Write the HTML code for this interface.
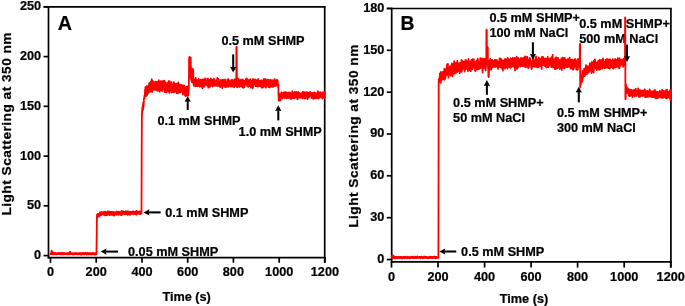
<!DOCTYPE html>
<html><head><meta charset="utf-8"><title>Light scattering</title>
<style>
html,body{margin:0;padding:0;background:#fff;}
body{width:685px;height:306px;overflow:hidden;font-family:"Liberation Sans",sans-serif;}
svg{display:block;}
.st{fill:none;stroke:#000;stroke-width:2.05;}
.hd{fill:#000;stroke:none;}
</style></head><body>
<svg width="685" height="306" viewBox="0 0 685 306">
<defs><filter id="sf" x="0" y="0" width="685" height="306" filterUnits="userSpaceOnUse"><feGaussianBlur stdDeviation="0.38"/></filter></defs>
<rect width="685" height="306" fill="#fff"/>
<g filter="url(#sf)">
<rect width="685" height="306" fill="#fff"/>
<g fill="none" stroke="#000" stroke-width="1.7" stroke-linecap="butt">
<path d="M48.5 6 V258.5" />
<path d="M47.6 257.6 H325.6" />
<path d="M43.6 6.8 H325.6" />
<path d="M324.7 6.8 V262.8" />
<path d="M43.6 255.6 H48.5" />
<path d="M43.6 205.8 H48.5" />
<path d="M43.6 156.1 H48.5" />
<path d="M43.6 106.3 H48.5" />
<path d="M43.6 56.6 H48.5" />
<path d="M43.6 6.8 H48.5" />
<path d="M50.5 257.6 V262.8" />
<path d="M96.2 257.6 V262.8" />
<path d="M142 257.6 V262.8" />
<path d="M187.7 257.6 V262.8" />
<path d="M233.4 257.6 V262.8" />
<path d="M279.2 257.6 V262.8" />
<path d="M324.9 257.6 V262.8" />
<path d="M391.7 7.7 V262.8" />
<path d="M390.8 261.9 H671.8" />
<path d="M386.8 8.5 H671.8" />
<path d="M670.9 8.5 V267.6" />
<path d="M386.8 259.5 H391.7" />
<path d="M386.8 217.7 H391.7" />
<path d="M386.8 175.8 H391.7" />
<path d="M386.8 134 H391.7" />
<path d="M386.8 92.2 H391.7" />
<path d="M386.8 50.3 H391.7" />
<path d="M386.8 8.5 H391.7" />
<path d="M391.5 261.9 V267.6" />
<path d="M438 261.9 V267.6" />
<path d="M484.6 261.9 V267.6" />
<path d="M531.1 261.9 V267.6" />
<path d="M577.6 261.9 V267.6" />
<path d="M624.2 261.9 V267.6" />
<path d="M670.7 261.9 V267.6" />
</g>
<g font-family="Liberation Sans, sans-serif" font-weight="bold" font-size="12.7" fill="#000" stroke="#000" stroke-width="0.22" stroke-linejoin="round">
<text x="41.1" y="259" text-anchor="end">0</text>
<text x="41.1" y="209.2" text-anchor="end">50</text>
<text x="41.1" y="159.5" text-anchor="end">100</text>
<text x="41.1" y="109.7" text-anchor="end">150</text>
<text x="41.1" y="60" text-anchor="end">200</text>
<text x="41.1" y="10.2" text-anchor="end">250</text>
<text x="384.3" y="262.9" text-anchor="end">0</text>
<text x="384.3" y="221.1" text-anchor="end">30</text>
<text x="384.3" y="179.2" text-anchor="end">60</text>
<text x="384.3" y="137.4" text-anchor="end">90</text>
<text x="384.3" y="95.6" text-anchor="end">120</text>
<text x="384.3" y="53.7" text-anchor="end">150</text>
<text x="384.3" y="11.9" text-anchor="end">180</text>
<text transform="translate(50.5 276.3) scale(1 1.05)" text-anchor="middle">0</text>
<text transform="translate(96.2 276.3) scale(1 1.05)" text-anchor="middle">200</text>
<text transform="translate(142 276.3) scale(1 1.05)" text-anchor="middle">400</text>
<text transform="translate(187.7 276.3) scale(1 1.05)" text-anchor="middle">600</text>
<text transform="translate(233.4 276.3) scale(1 1.05)" text-anchor="middle">800</text>
<text transform="translate(279.2 276.3) scale(1 1.05)" text-anchor="middle">1000</text>
<text transform="translate(324.9 276.3) scale(1 1.05)" text-anchor="middle">1200</text>
<text transform="translate(391.5 281.4) scale(1 1.07)" text-anchor="middle">0</text>
<text transform="translate(438 281.4) scale(1 1.07)" text-anchor="middle">200</text>
<text transform="translate(484.6 281.4) scale(1 1.07)" text-anchor="middle">400</text>
<text transform="translate(531.1 281.4) scale(1 1.07)" text-anchor="middle">600</text>
<text transform="translate(577.6 281.4) scale(1 1.07)" text-anchor="middle">800</text>
<text transform="translate(624.2 281.4) scale(1 1.07)" text-anchor="middle">1000</text>
<text transform="translate(670.7 281.4) scale(1 1.07)" text-anchor="middle">1200</text>
<text x="186.6" y="300.7" text-anchor="middle">Time (s)</text>
<text x="524" y="302.7" text-anchor="middle">Time (s)</text>
<text transform="translate(11.3 123.8) rotate(-90)" text-anchor="middle" font-size="13.7" letter-spacing="0.48">Light Scattering at 350 nm</text>
<text transform="translate(358 136) rotate(-90)" text-anchor="middle" font-size="13.7" letter-spacing="0.48">Light Scattering at 350 nm</text>
<text x="57.8" y="30" font-size="19.8">A</text>
<text x="400.5" y="29.5" font-size="19.3">B</text>
<text x="157.4" y="124.6">0.1 mM SHMP</text>
<text x="221.4" y="44.6">0.5 mM SHMP</text>
<text x="238.6" y="135.6">1.0 mM SHMP</text>
<text x="165.2" y="216.6">0.1 mM SHMP</text>
<text x="128" y="255.6">0.05 mM SHMP</text>
<text x="489.4" y="22">0.5 mM SHMP+</text>
<text x="489.4" y="37.1">100 mM NaCl</text>
<text x="579.2" y="28.4">0.5 mM SHMP+</text>
<text x="579.2" y="43.3">500 mM NaCl</text>
<text x="453.1" y="107.4">0.5 mM SHMP+</text>
<text x="453.1" y="122.2">50 mM NaCl</text>
<text x="556.9" y="117">0.5 mM SHMP+</text>
<text x="556.9" y="132.1">300 mM NaCl</text>
<text x="461.1" y="255.7">0.5 mM SHMP</text>
</g>
<g fill="none" stroke="#ff0000" stroke-width="1.8" stroke-linejoin="round" stroke-linecap="butt">
<path d="M50.5 253.8L50.6 254.1L50.7 253.7L50.8 253.7L51 254.4L51.1 254.2L51.2 253.8L51.3 253.1L51.4 251.6L51.5 252.9L51.6 250.7L51.8 253L51.9 253.4L52 251.8L52.1 254.1L52.2 253.5L52.3 252.8L52.4 253.8L52.6 252.9L52.7 252.8L52.8 253.5L52.9 252.2L53 254.3L53.1 252.6L53.2 253L53.4 253.5L53.5 253.6L53.6 253.6L53.7 254.4L53.8 253.9L53.9 253.3L54 253.4L54.2 253.9L54.3 253.1L54.4 253.8L54.5 253.5L54.6 253.2L54.7 254L54.8 253.9L55 253.8L55.1 254.1L55.2 253.3L55.3 254.2L55.4 253.1L55.5 254.4L55.6 253.2L55.8 253.2L55.9 253.9L56 253.6L56.1 254.4L56.2 254.1L56.3 253.6L56.4 253.6L56.6 253.8L56.7 254.2L56.8 253.6L56.9 253.9L57 254.4L57.1 253.1L57.2 253.7L57.4 253.9L57.5 253.5L57.6 254.2L57.7 254.1L57.8 253.9L57.9 254.2L58 254.2L58.2 253.2L58.3 253.5L58.4 253.8L58.5 253.7L58.6 252.9L58.7 253.8L58.8 254.2L59 253.9L59.1 253.8L59.2 254.1L59.3 254.2L59.4 253.5L59.5 253.1L59.6 253.3L59.8 254L59.9 254.1L60 253.6L60.1 253.9L60.2 252.8L60.3 253.2L60.4 253.7L60.6 254.2L60.7 254.3L60.8 254.3L60.9 253.3L61 253.5L61.1 253L61.2 253.2L61.4 254L61.5 254L61.6 253L61.7 253.5L61.8 253.3L61.9 254.4L62 253.7L62.2 253.5L62.3 253.3L62.4 253.8L62.5 254.3L62.6 253.6L62.7 254.2L62.8 254L63 253L63.1 253.9L63.2 253.9L63.3 254L63.4 254.4L63.5 253.2L63.6 253.3L63.8 253.6L63.9 254.3L64 254.1L64.1 253.5L64.2 254.1L64.3 253.1L64.4 254.1L64.6 253.1L64.7 253.6L64.8 253.8L64.9 253.5L65 254.1L65.1 254.3L65.2 253.8L65.4 253.6L65.5 253.7L65.6 253.6L65.7 253.7L65.8 254.1L65.9 253.4L66 253.6L66.2 254.1L66.3 253.8L66.4 253.5L66.5 254L66.6 253.2L66.7 253.2L66.8 254.3L67 253.3L67.1 254.3L67.2 254.2L67.3 254L67.4 254.4L67.5 253.5L67.7 254.2L67.8 254.4L67.9 253.1L68 253.2L68.1 254.3L68.2 253.2L68.3 254.3L68.5 253.8L68.6 254.2L68.7 254.1L68.8 253.7L68.9 253.9L69 253.6L69.1 253.1L69.3 253.3L69.4 254L69.5 254.3L69.6 252.7L69.7 252L69.8 252.6L69.9 252.4L70.1 252L70.2 252.4L70.3 252.1L70.4 252.4L70.5 251.8L70.6 254.2L70.7 253.3L70.9 253.9L71 253L71.1 253.9L71.2 253.9L71.3 254.2L71.4 254L71.5 254L71.7 253.7L71.8 253.6L71.9 254.2L72 253.8L72.1 253.6L72.2 254.5L72.3 254.1L72.5 253.5L72.6 253.2L72.7 254.1L72.8 253.1L72.9 253.8L73 253.8L73.1 253.9L73.3 254.1L73.4 254.3L73.5 254.3L73.6 254.1L73.7 253.8L73.8 254L73.9 253.6L74.1 254.3L74.2 253.1L74.3 253.2L74.4 253.2L74.5 254L74.6 253.9L74.7 253.9L74.9 253.7L75 254.3L75.1 253.8L75.2 254.2L75.3 254L75.4 253.9L75.5 253.6L75.7 253.3L75.8 254L75.9 252.9L76 253.3L76.1 254.1L76.2 253.8L76.3 253.4L76.5 253.8L76.6 253.6L76.7 253.6L76.8 253.4L76.9 253.6L77 254L77.1 253.9L77.3 254.1L77.4 253.7L77.5 253.6L77.6 254.5L77.7 253.3L77.8 253.9L77.9 253.3L78.1 253.9L78.2 254.3L78.3 253.8L78.4 253.2L78.5 253.9L78.6 253.8L78.7 253.8L78.9 253.4L79 254L79.1 253.5L79.2 254.1L79.3 254.3L79.4 253.2L79.5 253.5L79.7 253.6L79.8 253.5L79.9 253.9L80 253.1L80.1 253.8L80.2 253.1L80.3 254L80.5 254L80.6 253.6L80.7 254.6L80.8 254.2L80.9 253.6L81 253.5L81.1 253.9L81.3 254.4L81.4 254.5L81.5 254L81.6 254.2L81.7 253.2L81.8 254.3L81.9 254.5L82.1 253.2L82.2 254.3L82.3 254.3L82.4 253.2L82.5 254L82.6 254.2L82.7 254.1L82.9 253.3L83 254L83.1 253.9L83.2 253.5L83.3 253.4L83.4 253.2L83.5 253.8L83.7 253.2L83.8 253.7L83.9 253.5L84 254.4L84.1 253L84.2 253.8L84.3 254L84.5 254.5L84.6 253.6L84.7 253.6L84.8 254.1L84.9 253.1L85 253.6L85.1 252.7L85.3 253.7L85.4 254.1L85.5 253.8L85.6 253.9L85.7 253.4L85.8 254L85.9 254L86.1 253.9L86.2 254.3L86.3 253.8L86.4 253.9L86.5 254.3L86.6 254L86.7 253.6L86.9 252.9L87 254.6L87.1 254.4L87.2 254.1L87.3 253.4L87.4 253.2L87.5 253L87.7 254.4L87.8 254.1L87.9 253.3L88 253.2L88.1 253.6L88.2 253.8L88.3 253.4L88.5 253.8L88.6 254.1L88.7 254.2L88.8 253.2L88.9 254L89 253.5L89.1 253.8L89.3 254.1L89.4 254.4L89.5 253.4L89.6 253.3L89.7 254L89.8 253.2L89.9 254.5L90.1 253.8L90.2 254.2L90.3 253.4L90.4 254.4L90.5 254.1L90.6 254L90.7 253.3L90.9 254.3L91 253.2L91.1 253.8L91.2 254.1L91.3 253.3L91.4 253.7L91.5 253.7L91.7 253.4L91.8 253.9L91.9 254L92 254.3L92.1 254.5L92.2 253L92.3 253L92.5 253.9L92.6 253.9L92.7 254.4L92.8 253.6L92.9 253.8L93 254L93.1 253.9L93.3 252.8L93.4 253.8L93.5 253.8L93.6 254.1L93.7 254.4L93.8 253.2L93.9 254.3L94.1 254L94.2 253.7L94.3 254.6L94.4 254L94.5 253.9L94.6 253.3L94.7 254.1L94.9 253.2L95 253.5L95.1 253.9L95.2 253.4L95.3 253.4L95.4 254.6L95.5 254.5L95.7 253.1L95.8 253.9L95.9 253.5L96 253L96.1 253.1L96.2 253.3L96.3 254.1L96.5 254.1L96.6 245L96.7 236.1L96.8 227.2L96.9 218L97 214.7L97.1 214.4L97.3 217L97.4 217.4L97.5 215.6L97.6 216.6L97.7 214.4L97.8 214L97.9 216.6L98.1 214L98.2 214.7L98.3 213.9L98.4 215.1L98.5 215.2L98.6 215.3L98.7 214.2L98.9 215.2L99 214L99.1 216.4L99.2 213.9L99.3 213.6L99.4 215.5L99.5 214.8L99.7 213.4L99.8 214.8L99.9 213.1L100 213L100.1 212.1L100.2 213.2L100.3 214.8L100.5 214.6L100.6 215L100.7 215L100.8 215.5L100.9 214.2L101 214.1L101.1 212.9L101.3 214.7L101.4 213.3L101.5 213L101.6 212.9L101.7 214L101.8 211.9L101.9 214.5L102.1 214L102.2 212.1L102.3 214.5L102.4 212.9L102.5 212.3L102.6 213.6L102.8 212.7L102.9 213.6L103 213.3L103.1 213L103.2 213.2L103.3 214.1L103.4 214.2L103.6 213.3L103.7 213.6L103.8 212.3L103.9 214.7L104 211.7L104.1 214.9L104.2 212.8L104.4 212.6L104.5 212.1L104.6 213.7L104.7 213.3L104.8 215L104.9 214.7L105 213.5L105.2 214.6L105.3 211.6L105.4 215.4L105.5 215.1L105.6 212L105.7 212.9L105.8 213.2L106 212.8L106.1 213.9L106.2 214L106.3 215.2L106.4 214.5L106.5 212.5L106.6 214.8L106.8 213.3L106.9 213.5L107 215.1L107.1 214.6L107.2 212.4L107.3 212.2L107.4 212.9L107.6 213.6L107.7 211.5L107.8 211.3L107.9 212.6L108 212.1L108.1 212.6L108.2 214.6L108.4 212.4L108.5 213.9L108.6 212.1L108.7 213.3L108.8 212.1L108.9 211.7L109 214.3L109.2 213.4L109.3 214.7L109.4 211.8L109.5 212.6L109.6 212.6L109.7 215.1L109.8 213.9L110 212.7L110.1 212.3L110.2 214L110.3 213.7L110.4 212.5L110.5 211.9L110.6 213.7L110.8 214.7L110.9 211.9L111 213.8L111.1 212.4L111.2 212.9L111.3 213.8L111.4 214.4L111.6 213.4L111.7 211.9L111.8 214.3L111.9 214.2L112 214.9L112.1 213.6L112.2 214.6L112.4 214.5L112.5 213.1L112.6 211.9L112.7 214L112.8 212.7L112.9 212.1L113 214.4L113.2 215.1L113.3 214.1L113.4 213.7L113.5 212.2L113.6 213.9L113.7 213.2L113.8 213.5L114 212.3L114.1 215.6L114.2 214.6L114.3 214.5L114.4 213.1L114.5 212.1L114.6 213.5L114.8 214.1L114.9 213L115 214.4L115.1 213.9L115.2 212.8L115.3 214.3L115.4 213.7L115.6 212.4L115.7 212.3L115.8 214.4L115.9 213.7L116 212.9L116.1 214.6L116.2 214.9L116.4 211.7L116.5 214L116.6 211.8L116.7 213.9L116.8 212.2L116.9 211.7L117 213L117.2 212.3L117.3 213L117.4 212.6L117.5 213.5L117.6 214.3L117.7 214.2L117.8 212L118 214.1L118.1 211.8L118.2 213.6L118.3 214.5L118.4 213L118.5 212.9L118.6 214.8L118.8 212.4L118.9 212.1L119 212.1L119.1 211.7L119.2 214.1L119.3 213.6L119.4 212L119.6 212.5L119.7 214.3L119.8 213.8L119.9 213.7L120 213.8L120.1 213.8L120.2 213.9L120.4 214L120.5 212.5L120.6 212.8L120.7 214.9L120.8 212.1L120.9 213.7L121 214.4L121.2 211.4L121.3 213.7L121.4 214.4L121.5 211L121.6 215.1L121.7 212.2L121.8 214.4L122 212.1L122.1 213.5L122.2 214.1L122.3 212.7L122.4 212.7L122.5 214.2L122.6 212.8L122.8 212.9L122.9 213.1L123 211.2L123.1 214.1L123.2 214L123.3 212.2L123.4 213.2L123.6 213.4L123.7 212.9L123.8 213.3L123.9 213.6L124 211.8L124.1 212.6L124.2 213.5L124.4 212.4L124.5 213.3L124.6 211.9L124.7 213.4L124.8 212.3L124.9 214.3L125 214L125.2 213.6L125.3 213.2L125.4 211.3L125.5 214.1L125.6 213.4L125.7 211.4L125.8 213.8L126 214.1L126.1 214.1L126.2 213L126.3 212L126.4 213L126.5 213.1L126.6 214.4L126.8 212.5L126.9 212.2L127 212L127.1 213.1L127.2 211.2L127.3 212.4L127.4 213.2L127.6 212.9L127.7 212.5L127.8 214.8L127.9 212L128 212.6L128.1 212.7L128.2 213.1L128.4 211.3L128.5 214.3L128.6 213.9L128.7 212.9L128.8 212.8L128.9 213.8L129 213.8L129.2 214.6L129.3 212.5L129.4 213.4L129.5 213.4L129.6 213L129.7 212.5L129.8 213.3L130 211.7L130.1 213.1L130.2 213.1L130.3 214.8L130.4 212.1L130.5 213.4L130.6 211.9L130.8 211.9L130.9 212L131 213.2L131.1 211.9L131.2 212.3L131.3 213.1L131.4 213.4L131.6 212.6L131.7 211.8L131.8 213.9L131.9 212.2L132 212.8L132.1 211.9L132.2 213.3L132.4 213.1L132.5 212.2L132.6 213.5L132.7 212.6L132.8 213.5L132.9 213.7L133 211.5L133.2 212L133.3 211.6L133.4 212.1L133.5 212.4L133.6 211.5L133.7 212.4L133.8 213.8L134 213.6L134.1 214.3L134.2 211.6L134.3 211.9L134.4 212.4L134.5 212.2L134.6 211.8L134.8 212.5L134.9 212.8L135 212.1L135.1 212.7L135.2 213.6L135.3 212.4L135.4 213.8L135.6 213.3L135.7 211.7L135.8 214.1L135.9 213L136 212.1L136.1 213.4L136.2 210.9L136.4 212.1L136.5 214.7L136.6 211.9L136.7 212.9L136.8 212.9L136.9 211L137.1 212.3L137.2 213L137.3 213.2L137.4 212.7L137.5 213.3L137.6 213.7L137.7 213.7L137.9 212.2L138 213.2L138.1 212.2L138.2 212L138.3 213.4L138.4 212.2L138.5 212.3L138.7 212.2L138.8 211.7L138.9 213.4L139 213.9L139.1 211.6L139.2 212.1L139.3 213.2L139.5 212.8L139.6 212.9L139.7 212.1L139.8 212.3L139.9 211.7L140 214L140.1 211.4L140.3 213.4L140.4 211.6L140.5 214L140.6 213.6L140.7 212.8L140.8 212.2L140.9 212.6L141.1 213.6L141.2 212L141.3 211.5L141.4 213L141.5 212.4L141.6 179.8L141.7 146.4L141.9 114.5L142 114.8L142.1 110.6L142.2 113.3L142.3 108L142.4 110.8L142.5 110.6L142.7 106.6L142.8 105.4L142.9 104.5L143 110L143.1 104.7L143.2 102.7L143.3 104.2L143.5 106.8L143.6 106.7L143.7 105.9L143.8 102.4L143.9 98.4L144 98.9L144.1 98.1L144.3 98.8L144.4 95.9L144.5 98.4L144.6 97.5L144.7 95.6L144.8 94.7L144.9 93.5L145.1 89.6L145.2 90.6L145.3 92.8L145.4 87.2L145.5 95.6L145.6 91.9L145.7 90.9L145.9 88.9L146 94.8L146.1 96.1L146.2 88.9L146.3 87.6L146.4 87.7L146.5 86.5L146.7 93.6L146.8 86.2L146.9 87.8L147 89.9L147.1 86.1L147.2 92.4L147.3 94.8L147.5 88.9L147.6 93.2L147.7 91.3L147.8 91.5L147.9 92L148 93.2L148.1 85.8L148.3 89.8L148.4 89.3L148.5 91.6L148.6 91.6L148.7 88.6L148.8 89.6L148.9 92.3L149.1 83.5L149.2 86.1L149.3 84L149.4 87.7L149.5 87L149.6 82.8L149.7 85.5L149.9 89.5L150 87.3L150.1 83.4L150.2 83.2L150.3 91.7L150.4 89.7L150.5 90.8L150.7 85.5L150.8 83.7L150.9 81.5L151 87.1L151.1 89.5L151.2 86.4L151.3 83.6L151.5 88.2L151.6 85.4L151.7 79.2L151.8 88.3L151.9 87.7L152 80.8L152.1 92.1L152.3 84.2L152.4 83.5L152.5 89.3L152.6 80.6L152.7 85.1L152.8 82.3L152.9 90.4L153.1 89L153.2 86L153.3 88.8L153.4 82.6L153.5 88.9L153.6 89.8L153.7 82.4L153.9 82.1L154 87L154.1 87.8L154.2 85.9L154.3 87.7L154.4 84.3L154.5 84.3L154.7 89.5L154.8 84.6L154.9 82.7L155 88.8L155.1 87.7L155.2 83.1L155.3 85.4L155.5 87.1L155.6 81.7L155.7 88.7L155.8 89.7L155.9 86.3L156 87.8L156.1 82.8L156.3 82.1L156.4 90.3L156.5 87.5L156.6 84.6L156.7 87.1L156.8 83.3L156.9 90L157.1 83.4L157.2 86.5L157.3 81.6L157.4 87.6L157.5 88.6L157.6 90.6L157.7 88.3L157.9 84.9L158 87.4L158.1 82.2L158.2 83.5L158.3 90.3L158.4 85.2L158.5 88.9L158.7 84L158.8 80.2L158.9 83.1L159 85.7L159.1 82.3L159.2 81.8L159.3 86.4L159.5 83.8L159.6 91.7L159.7 85.7L159.8 89.8L159.9 84.4L160 87.7L160.1 84.5L160.3 87.7L160.4 87.9L160.5 87.1L160.6 90.5L160.7 81.1L160.8 88.7L160.9 87.9L161.1 89.8L161.2 83.8L161.3 84.6L161.4 86.9L161.5 89.8L161.6 82.3L161.7 89.7L161.9 86.8L162 89.3L162.1 85.6L162.2 81.1L162.3 90.9L162.4 89.9L162.5 81.6L162.7 87L162.8 83.8L162.9 81.8L163 83.7L163.1 86.6L163.2 84.2L163.3 82.2L163.5 82.6L163.6 86L163.7 80.7L163.8 87L163.9 85.6L164 88.9L164.1 86.8L164.3 89.4L164.4 81L164.5 87.5L164.6 81.1L164.7 92.1L164.8 84.8L164.9 86.3L165.1 84.1L165.2 89.2L165.3 88.6L165.4 86.8L165.5 88.3L165.6 85.7L165.7 82.7L165.9 86.5L166 85.4L166.1 89.1L166.2 88.9L166.3 88L166.4 92.3L166.5 85.8L166.7 86L166.8 84.9L166.9 88.2L167 87L167.1 88L167.2 85.3L167.3 87.6L167.5 87.8L167.6 82.8L167.7 84.9L167.8 87.4L167.9 83.9L168 87.4L168.1 86L168.3 91.6L168.4 83.4L168.5 89.7L168.6 81.2L168.7 90.4L168.8 83.9L168.9 84.1L169.1 88.2L169.2 84.4L169.3 88.9L169.4 84.6L169.5 92.8L169.6 81.1L169.7 85.8L169.9 85.2L170 87.9L170.1 82.9L170.2 89.1L170.3 89.1L170.4 88.2L170.6 89L170.7 88.9L170.8 83.3L170.9 88.6L171 90.1L171.1 85.5L171.2 83.8L171.4 87.2L171.5 82.1L171.6 92.4L171.7 87.6L171.8 91.4L171.9 89.2L172 84.4L172.2 85.3L172.3 87L172.4 86.3L172.5 85.5L172.6 86.9L172.7 87.6L172.8 91.9L173 85.8L173.1 84.3L173.2 89.6L173.3 90.8L173.4 91.7L173.5 86.8L173.6 89.8L173.8 82.2L173.9 92.4L174 84.6L174.1 85L174.2 84.5L174.3 89.2L174.4 88.2L174.6 90.6L174.7 87.3L174.8 83.7L174.9 85.2L175 84.6L175.1 89.6L175.2 89.7L175.4 86.1L175.5 91.6L175.6 88.7L175.7 86.8L175.8 86L175.9 88.8L176 90.4L176.2 89.9L176.3 91L176.4 83.6L176.5 86.8L176.6 93.1L176.7 86.4L176.8 87.7L177 91.3L177.1 83.8L177.2 88.2L177.3 88.2L177.4 91.2L177.5 84.9L177.6 89.5L177.8 93.3L177.9 83.6L178 85.4L178.1 86L178.2 82.5L178.3 87.6L178.4 89.8L178.6 86.3L178.7 83.9L178.8 88.5L178.9 92.6L179 88.7L179.1 87.6L179.2 87L179.4 88.8L179.5 89.1L179.6 85.4L179.7 90.2L179.8 90.1L179.9 89.6L180 90L180.2 92.3L180.3 91.6L180.4 84.9L180.5 84.9L180.6 85.5L180.7 86L180.8 89.5L181 85.1L181.1 88.9L181.2 91.4L181.3 87.4L181.4 85.8L181.5 90.5L181.6 90.4L181.8 84.8L181.9 87.9L182 91.4L182.1 89.1L182.2 89.3L182.3 92.3L182.4 91.9L182.6 88.9L182.7 94.4L182.8 90.1L182.9 90.6L183 91.9L183.1 93.5L183.2 91.6L183.4 85.5L183.5 88.9L183.6 93.4L183.7 87.9L183.8 89.1L183.9 87.4L184 88.1L184.2 89L184.3 88.6L184.4 85.6L184.5 88L184.6 94.8L184.7 93L184.8 90.4L185 95.3L185.1 91.7L185.2 88.9L185.3 93.5L185.4 91.5L185.5 96.2L185.6 87.1L185.8 95.8L185.9 87.5L186 93.2L186.1 94.1L186.2 87.5L186.3 86.7L186.4 90.7L186.6 87.9L186.7 95.5L186.8 89.7L186.9 88.4L187 88.4L187.1 92.9L187.2 95.3L187.4 92.2L187.5 86.3L187.6 93.7L187.7 89.2L187.8 91.6L187.9 88.1L188 94.4L188.2 95.6L188.3 92.8L188.4 91.7L188.5 88.5L188.6 93.3L188.7 90.3L188.8 90.1L189 73.6L189.1 58.7L189.2 57.2L189.3 57.6L189.4 57.6L189.5 58L189.6 57L189.8 76.8L189.9 71.7L190 77.7L190.1 62L190.2 67.3L190.3 67.1L190.4 70.4L190.6 77.4L190.7 57.6L190.8 64.6L190.9 66.5L191 74.6L191.1 74.1L191.2 80L191.4 68.5L191.5 68.8L191.6 71.3L191.7 78.7L191.8 81.7L191.9 81.9L192 82.4L192.2 69.8L192.3 78.9L192.4 73.9L192.5 75.3L192.6 73.2L192.7 78.4L192.8 68.8L193 75.7L193.1 70.9L193.2 69.7L193.3 81.5L193.4 83.2L193.5 84.1L193.6 80.9L193.8 84.4L193.9 82.7L194 85.9L194.1 82.6L194.2 84.8L194.3 79.4L194.4 84.5L194.6 84.8L194.7 84.2L194.8 85L194.9 79.9L195 79.5L195.1 82.4L195.2 82.6L195.4 85.1L195.5 86.2L195.6 79.3L195.7 77.9L195.8 82.2L195.9 79.3L196 81.5L196.2 86.1L196.3 83.8L196.4 81.9L196.5 79.3L196.6 85.5L196.7 81.8L196.8 86.1L197 82.9L197.1 84.4L197.2 83.7L197.3 84.6L197.4 80.7L197.5 85L197.6 86.1L197.8 82.5L197.9 81.3L198 85L198.1 82.8L198.2 81.3L198.3 85.2L198.4 82.4L198.6 82.1L198.7 78.9L198.8 79.4L198.9 85.1L199 85.8L199.1 81L199.2 85.9L199.4 80.2L199.5 83.4L199.6 86.6L199.7 84.5L199.8 83L199.9 81.1L200 82L200.2 80.9L200.3 85.1L200.4 81.7L200.5 81.3L200.6 84L200.7 79.7L200.8 86.4L201 81.1L201.1 80L201.2 84.2L201.3 85.1L201.4 86.5L201.5 81.6L201.6 85L201.8 80.6L201.9 85.6L202 81.7L202.1 82.5L202.2 81.1L202.3 80.7L202.4 88.2L202.6 83.2L202.7 79.3L202.8 80.1L202.9 80.4L203 82.3L203.1 84.5L203.2 81.8L203.4 80.9L203.5 86L203.6 79.5L203.7 81.6L203.8 83.6L203.9 83.8L204 84.2L204.2 86.9L204.3 86.5L204.4 82.8L204.5 85.3L204.6 81.7L204.7 82.1L204.8 85.4L205 80.1L205.1 78.3L205.2 80.7L205.3 80L205.4 83.1L205.5 84.1L205.7 78.6L205.8 80.1L205.9 81.7L206 82.4L206.1 83.9L206.2 82.7L206.3 83.8L206.5 83L206.6 83.8L206.7 84.5L206.8 84.5L206.9 85.6L207 83.9L207.1 82.5L207.3 85.3L207.4 84.7L207.5 81.1L207.6 80.9L207.7 80.5L207.8 85.2L207.9 78.4L208.1 83.7L208.2 81.2L208.3 87.7L208.4 84.2L208.5 84L208.6 84.4L208.7 81.2L208.9 84L209 81.3L209.1 85.9L209.2 80L209.3 86L209.4 80.1L209.5 85.9L209.7 86.8L209.8 82.3L209.9 79.7L210 80.3L210.1 82.9L210.2 83.2L210.3 86.2L210.5 81.8L210.6 85.2L210.7 84.5L210.8 81.1L210.9 82.2L211 78.3L211.1 80.9L211.3 83.6L211.4 85L211.5 79.6L211.6 82.5L211.7 83.6L211.8 82.4L211.9 82.9L212.1 83.3L212.2 81.3L212.3 85.7L212.4 80L212.5 84.5L212.6 82.3L212.7 86.5L212.9 83.9L213 85.1L213.1 79.3L213.2 84.2L213.3 85.9L213.4 82.6L213.5 81.6L213.7 81.9L213.8 84.7L213.9 78.6L214 83.7L214.1 84.4L214.2 80.8L214.3 84L214.5 81.6L214.6 79.9L214.7 85.6L214.8 82.2L214.9 83.4L215 82.7L215.1 81.6L215.3 83.1L215.4 84.8L215.5 82.7L215.6 84.3L215.7 80.5L215.8 83.7L215.9 82.4L216.1 84.1L216.2 85.9L216.3 80.8L216.4 84.7L216.5 82.6L216.6 82L216.7 83.4L216.9 79.9L217 84.3L217.1 81.5L217.2 79.7L217.3 77.9L217.4 83.9L217.5 79.6L217.7 85.9L217.8 81.6L217.9 85L218 84.6L218.1 82.8L218.2 81L218.3 79L218.5 80.8L218.6 80.6L218.7 84.5L218.8 83.3L218.9 79.4L219 83.9L219.1 83.3L219.3 86L219.4 81.4L219.5 85.5L219.6 86.7L219.7 86L219.8 83.9L219.9 83.1L220.1 81.7L220.2 84.2L220.3 85.3L220.4 87L220.5 82.6L220.6 82.5L220.7 81.8L220.9 84L221 80L221.1 80.5L221.2 85.1L221.3 82.6L221.4 83.9L221.5 81.6L221.7 83.9L221.8 81.6L221.9 82.5L222 83.8L222.1 85L222.2 80.2L222.3 88L222.5 82.2L222.6 81.5L222.7 84.2L222.8 81.3L222.9 81.7L223 79.6L223.1 85.8L223.3 84.9L223.4 82.4L223.5 81.5L223.6 82.3L223.7 81.5L223.8 85.4L223.9 80.6L224.1 83.4L224.2 84.2L224.3 83.6L224.4 81.2L224.5 84.4L224.6 85.1L224.7 84.8L224.9 82.9L225 79.3L225.1 87.3L225.2 83L225.3 87.1L225.4 85.4L225.5 83.6L225.7 81.9L225.8 86L225.9 82.3L226 83.4L226.1 82.7L226.2 86.9L226.3 82.5L226.5 84L226.6 84.4L226.7 85.6L226.8 85.4L226.9 85.4L227 81.6L227.1 84L227.3 79.6L227.4 79.8L227.5 86.5L227.6 81.5L227.7 83L227.8 83.7L227.9 81.8L228.1 81.1L228.2 81.4L228.3 81.8L228.4 79.2L228.5 79.3L228.6 84.3L228.7 86.7L228.9 82.1L229 82.3L229.1 80.2L229.2 82.6L229.3 85L229.4 83.2L229.5 82.5L229.7 83.7L229.8 82.4L229.9 82.6L230 82.4L230.1 82.3L230.2 81.1L230.3 85.4L230.5 85.8L230.6 86.3L230.7 81.6L230.8 81.9L230.9 81.9L231 81.7L231.1 86.4L231.3 82.5L231.4 80L231.5 82.3L231.6 85.8L231.7 84.8L231.8 84.4L231.9 80.9L232.1 83.2L232.2 84.3L232.3 80L232.4 86.4L232.5 84.1L232.6 83.6L232.7 84.5L232.9 83.9L233 80.4L233.1 80.8L233.2 86.6L233.3 82.7L233.4 82.9L233.5 80.4L233.7 84.9L233.8 84L233.9 82.5L234 80.8L234.1 87.3L234.2 85.7L234.3 79.5L234.5 84.8L234.6 81.7L234.7 83.7L234.8 82.2L234.9 85.8L235 79.5L235.1 83.5L235.3 84.6L235.4 79.1L235.5 84.1L235.6 80.9L235.7 81.6L235.8 81.5L235.9 85.9L236.1 85.6L236.2 83L236.3 84.5L236.4 46.9L236.5 47.2L236.6 46.8L236.7 47.4L236.9 84.3L237 83.3L237.1 87.3L237.2 83.3L237.3 80.6L237.4 84.6L237.5 78.1L237.7 83L237.8 85.4L237.9 81.9L238 79.3L238.1 80L238.2 82.8L238.3 85.7L238.5 83.4L238.6 86.1L238.7 79L238.8 79.6L238.9 83L239 86.7L239.1 84.9L239.3 81.2L239.4 85.2L239.5 86.9L239.6 81.8L239.7 80.5L239.8 82.7L240 83L240.1 86.2L240.2 83L240.3 85.1L240.4 84.5L240.5 84.7L240.6 81.1L240.8 81.1L240.9 85.9L241 79.7L241.1 82.2L241.2 86.3L241.3 82.8L241.4 83.5L241.6 83.4L241.7 84.8L241.8 80.1L241.9 83L242 80.2L242.1 82.9L242.2 83L242.4 85L242.5 85.3L242.6 87.3L242.7 83.9L242.8 79.4L242.9 84.4L243 82.2L243.2 87.6L243.3 87L243.4 87.9L243.5 82.9L243.6 85.8L243.7 83L243.8 86.1L244 80.9L244.1 85.6L244.2 85.1L244.3 87L244.4 83.9L244.5 84.7L244.6 81.3L244.8 81.6L244.9 84.9L245 80.3L245.1 81.8L245.2 82.8L245.3 80.7L245.4 82.1L245.6 83L245.7 80L245.8 80.4L245.9 78.9L246 80.4L246.1 82.8L246.2 84.1L246.4 80.6L246.5 81.3L246.6 80.8L246.7 78.4L246.8 79.6L246.9 84.6L247 85.9L247.2 83.4L247.3 79.3L247.4 82.2L247.5 82.1L247.6 82.1L247.7 82.9L247.8 82.8L248 80.2L248.1 85.7L248.2 82.2L248.3 86.8L248.4 85.9L248.5 82.1L248.6 82.9L248.8 84.2L248.9 80L249 82.5L249.1 84.4L249.2 83.1L249.3 80.6L249.4 86L249.6 81.2L249.7 85.7L249.8 82L249.9 84.2L250 81.3L250.1 86.2L250.2 83.2L250.4 79.2L250.5 84L250.6 82.5L250.7 80.2L250.8 83.3L250.9 84.9L251 87.7L251.2 83.7L251.3 82.4L251.4 82.9L251.5 86.9L251.6 80.8L251.7 84.9L251.8 85.2L252 84L252.1 85L252.2 83.9L252.3 81L252.4 82.9L252.5 81.9L252.6 80.8L252.8 88L252.9 83L253 78.9L253.1 86.7L253.2 87L253.3 84L253.4 86.1L253.6 81.7L253.7 82.7L253.8 80.9L253.9 83.4L254 82.7L254.1 82.3L254.2 84.2L254.4 80L254.5 81.5L254.6 82.8L254.7 79.9L254.8 84.3L254.9 83.9L255 83.9L255.2 79.5L255.3 84.8L255.4 80L255.5 83L255.6 86.1L255.7 83.2L255.8 80.1L256 79.9L256.1 83L256.2 82.5L256.3 83.7L256.4 82.3L256.5 83.6L256.6 86.2L256.8 83.3L256.9 85.3L257 82.5L257.1 85L257.2 81.8L257.3 80.6L257.4 84.9L257.6 82.6L257.7 82L257.8 82L257.9 86.5L258 78.9L258.1 82.9L258.2 85.5L258.4 80.3L258.5 84.9L258.6 81.5L258.7 80.3L258.8 84.4L258.9 80.7L259 86L259.2 83.7L259.3 82.5L259.4 83.9L259.5 84.6L259.6 81.3L259.7 81.1L259.8 82.6L260 83.5L260.1 80.6L260.2 81.1L260.3 81.9L260.4 86.3L260.5 83.9L260.6 83.8L260.8 80.6L260.9 84.8L261 85.5L261.1 80.5L261.2 84.6L261.3 80.4L261.4 83.8L261.6 87.1L261.7 85.3L261.8 87.5L261.9 80.8L262 86.4L262.1 85.7L262.2 82.9L262.4 82.2L262.5 85.2L262.6 81.6L262.7 81.4L262.8 81.5L262.9 87.6L263 86.4L263.2 82.7L263.3 85.2L263.4 83.8L263.5 81.2L263.6 79.2L263.7 86.7L263.8 79.1L264 85.5L264.1 84.3L264.2 85L264.3 84.1L264.4 84L264.5 85.6L264.6 84.9L264.8 85.7L264.9 85.6L265 83.7L265.1 84L265.2 79L265.3 82.6L265.4 86.4L265.6 80.7L265.7 82.3L265.8 84.9L265.9 87.6L266 86.8L266.1 86.2L266.2 79.9L266.4 81.7L266.5 86L266.6 85.6L266.7 81L266.8 80.3L266.9 82.2L267 85.1L267.2 82.6L267.3 85.4L267.4 80.4L267.5 79.6L267.6 84.7L267.7 83L267.8 80L268 85.3L268.1 82.8L268.2 82.6L268.3 81.3L268.4 81.9L268.5 82.7L268.6 87L268.8 79.6L268.9 83.9L269 85.7L269.1 80.9L269.2 82.5L269.3 85.7L269.4 81.9L269.6 82.7L269.7 87.4L269.8 80.9L269.9 83.8L270 82.4L270.1 83.1L270.2 82.6L270.4 80.5L270.5 82.1L270.6 79.8L270.7 86.6L270.8 80.2L270.9 82.5L271 86.5L271.2 80.1L271.3 86.8L271.4 84.7L271.5 82.5L271.6 81.8L271.7 86.6L271.8 84.4L272 86L272.1 80.3L272.2 81.9L272.3 86.2L272.4 81.5L272.5 80.7L272.6 81.1L272.8 82.6L272.9 83.6L273 82.7L273.1 86.9L273.2 83.4L273.3 86L273.4 80.1L273.6 81.1L273.7 82.8L273.8 84.6L273.9 82.1L274 81.6L274.1 83.3L274.3 80.2L274.4 80.4L274.5 84.3L274.6 80.9L274.7 79.2L274.8 81.3L274.9 86.2L275.1 83L275.2 84.4L275.3 85.1L275.4 81.4L275.5 81.3L275.6 83.1L275.7 80.7L275.9 80.8L276 83.6L276.1 80.8L276.2 84.1L276.3 85.5L276.4 84.7L276.5 83.5L276.7 81.4L276.8 83.4L276.9 79.7L277 85.1L277.1 85.4L277.2 85.3L277.3 80.1L277.5 82L277.6 80.4L277.7 84.3L277.8 85.9L277.9 83.3L278 86.7L278.1 86.4L278.3 84.5L278.4 89.8L278.5 95.6L278.6 96.5L278.7 100.7L278.8 95.1L278.9 100.8L279.1 93.5L279.2 100.4L279.3 95.6L279.4 95.6L279.5 98.9L279.6 99.7L279.7 98.5L279.9 94.4L280 96.3L280.1 95.9L280.2 99.4L280.3 98L280.4 98.1L280.5 100.3L280.7 94.7L280.8 97.2L280.9 98.7L281 97.9L281.1 95.4L281.2 92.9L281.3 95.6L281.5 92.3L281.6 97L281.7 93.1L281.8 98L281.9 97.8L282 96L282.1 95.5L282.3 98L282.4 95.8L282.5 94.9L282.6 95.1L282.7 98.3L282.8 98.1L282.9 93L283.1 96.3L283.2 94.1L283.3 97.5L283.4 97L283.5 96.7L283.6 96.7L283.7 93.8L283.9 96.6L284 96.8L284.1 94.7L284.2 92.1L284.3 93L284.4 96.2L284.5 97.5L284.7 95.7L284.8 98L284.9 95.3L285 95.2L285.1 97L285.2 95.3L285.3 93.1L285.5 97.1L285.6 95.4L285.7 93.2L285.8 91.8L285.9 94.1L286 96.2L286.1 95.7L286.3 98L286.4 93.9L286.5 93.3L286.6 96.1L286.7 97.5L286.8 98.2L286.9 93L287.1 98.2L287.2 94.6L287.3 95.6L287.4 94.5L287.5 95.5L287.6 95L287.7 93.9L287.9 92.8L288 97.7L288.1 92.8L288.2 94.3L288.3 92.5L288.4 97.9L288.5 95.4L288.7 93.5L288.8 94.2L288.9 94.6L289 97.7L289.1 95.7L289.2 94.5L289.3 92.7L289.5 94.4L289.6 95.7L289.7 92.9L289.8 92.5L289.9 97L290 94L290.1 98.5L290.3 93.1L290.4 98.8L290.5 96L290.6 95.1L290.7 97.3L290.8 97.2L290.9 97.6L291.1 96.6L291.2 98.8L291.3 96.4L291.4 94.8L291.5 95.1L291.6 94L291.7 92.9L291.9 94.1L292 97.7L292.1 98.4L292.2 97.1L292.3 91.2L292.4 97.3L292.5 93.8L292.7 94.8L292.8 96.9L292.9 95.6L293 93.7L293.1 92.5L293.2 92.7L293.3 94.5L293.5 95.8L293.6 97.6L293.7 93.6L293.8 98L293.9 96.6L294 94.3L294.1 95.6L294.3 94.6L294.4 98.3L294.5 92.5L294.6 96.3L294.7 92.5L294.8 91.9L294.9 92.9L295.1 95L295.2 94.4L295.3 97.4L295.4 97.1L295.5 97.3L295.6 96.2L295.7 94.7L295.9 93.4L296 94.5L296.1 95.3L296.2 97.4L296.3 93.9L296.4 92L296.5 93.2L296.7 95.5L296.8 93.7L296.9 93.9L297 96.6L297.1 93.4L297.2 92.6L297.3 97.9L297.5 99.4L297.6 97L297.7 97.4L297.8 94.2L297.9 98.2L298 93.5L298.1 92.1L298.3 92.8L298.4 92.2L298.5 94.7L298.6 97.2L298.7 96.4L298.8 97.6L298.9 97.6L299.1 94.8L299.2 94.2L299.3 94.5L299.4 96.5L299.5 93.1L299.6 97.5L299.7 95.1L299.9 96.2L300 93.5L300.1 95.2L300.2 97.6L300.3 95L300.4 96L300.5 94.4L300.7 97.2L300.8 96.7L300.9 94.5L301 95.2L301.1 95.2L301.2 94.2L301.3 97.3L301.5 93.2L301.6 94.3L301.7 96.8L301.8 94.4L301.9 96.5L302 93.2L302.1 93.7L302.3 93.9L302.4 93.4L302.5 98.3L302.6 98.3L302.7 94.3L302.8 91.7L302.9 95.5L303.1 95L303.2 96L303.3 94.3L303.4 93.5L303.5 95.9L303.6 95.5L303.7 95.9L303.9 97.6L304 93.6L304.1 97.8L304.2 92.2L304.3 94L304.4 94L304.5 94.6L304.7 92.4L304.8 98.6L304.9 96.3L305 97.9L305.1 97.1L305.2 98.1L305.3 92.4L305.5 98.3L305.6 96.3L305.7 97.3L305.8 95L305.9 93.2L306 93.4L306.1 96L306.3 96.6L306.4 92.1L306.5 93.5L306.6 92.3L306.7 93.2L306.8 95L306.9 93.3L307.1 93.6L307.2 92.3L307.3 97.4L307.4 97.5L307.5 99.1L307.6 97L307.8 93.5L307.9 93.5L308 96L308.1 92.7L308.2 93.3L308.3 93.9L308.4 93.2L308.6 97.5L308.7 93.1L308.8 96.7L308.9 96.6L309 97.1L309.1 96.3L309.2 95L309.4 93.1L309.5 93.5L309.6 92.3L309.7 93.9L309.8 93.5L309.9 95L310 92.7L310.2 95.6L310.3 94.3L310.4 92.1L310.5 92L310.6 92.5L310.7 94.5L310.8 93.4L311 95.8L311.1 93.5L311.2 93.3L311.3 96.7L311.4 96.3L311.5 97.8L311.6 93.6L311.8 97.6L311.9 93.7L312 95.1L312.1 92.9L312.2 94.8L312.3 94.7L312.4 93.7L312.6 95.8L312.7 98.4L312.8 94.4L312.9 96.3L313 95L313.1 97.9L313.2 97.5L313.4 92.7L313.5 97.4L313.6 94.9L313.7 95.9L313.8 98.6L313.9 94.7L314 97.4L314.2 97.1L314.3 98.4L314.4 92.3L314.5 96.1L314.6 93.7L314.7 96.8L314.8 96.4L315 95.6L315.1 95.6L315.2 93L315.3 93.7L315.4 97.8L315.5 94.2L315.6 93.6L315.8 95.7L315.9 98.4L316 94L316.1 93.7L316.2 94.4L316.3 97.9L316.4 94.3L316.6 95.5L316.7 96.9L316.8 94.5L316.9 95.5L317 96.3L317.1 94.1L317.2 97.4L317.4 94.8L317.5 92.1L317.6 98.2L317.7 94.5L317.8 94.3L317.9 94L318 91.1L318.2 95.1L318.3 96.6L318.4 93.7L318.5 98.6L318.6 92.2L318.7 96.3L318.8 97.7L319 98.3L319.1 96L319.2 97.3L319.3 96.9L319.4 97L319.5 95.5L319.6 94.9L319.8 92.9L319.9 95.2L320 96.5L320.1 96.3L320.2 92.1L320.3 96.4L320.4 95.6L320.6 94.6L320.7 92.9L320.8 93.5L320.9 94L321 97.4L321.1 97.2L321.2 96.1L321.4 93.5L321.5 93.6L321.6 96.3L321.7 93L321.8 95.3L321.9 95.4L322 96.3L322.2 96L322.3 92.5L322.4 98.6L322.5 94.6L322.6 95.6L322.7 95.6L322.8 93.4L323 97L323.1 97.1L323.2 97.6L323.3 96.7L323.4 92.5L323.5 95.3L323.6 92.8L323.8 97.4L323.9 97.3L324 97.8L324.1 97.4L324.2 98.1L324.3 92.8L324.4 92L324.6 93.2L324.7 97.1L324.8 97.6L324.9 93.4"/>
<path d="M391.5 256.8L391.6 256.6L391.7 256.5L391.8 256.6L392 256.3L392.1 257.3L392.2 257.6L392.3 258.4L392.4 255.4L392.5 256.8L392.7 257.5L392.8 258.1L392.9 257.9L393 257.2L393.1 257.2L393.2 257.2L393.4 257.5L393.5 258.1L393.6 255.6L393.7 256.9L393.8 257.7L393.9 257.9L394.1 257.4L394.2 257.4L394.3 256.9L394.4 257.9L394.5 257.4L394.6 257.5L394.8 258.2L394.9 258L395 258.2L395.1 256.8L395.2 258L395.3 258L395.5 257L395.6 257.4L395.7 257.9L395.8 257.4L395.9 258.1L396 257.7L396.2 256.8L396.3 257.1L396.4 258.1L396.5 257.1L396.6 257.9L396.7 257.8L396.9 257.2L397 257.9L397.1 258.1L397.2 257.4L397.3 258.1L397.4 257.4L397.5 257.3L397.7 258L397.8 256.9L397.9 258L398 257.1L398.1 256.9L398.2 257.1L398.4 258.1L398.5 258L398.6 257.2L398.7 257.7L398.8 258L398.9 257.9L399.1 257.9L399.2 257.3L399.3 258L399.4 256.9L399.5 257.7L399.6 257.5L399.8 257.6L399.9 257.3L400 256.9L400.1 257L400.2 257.6L400.3 257.9L400.5 256.9L400.6 257.2L400.7 257.3L400.8 257.5L400.9 257L401 258.3L401.2 257L401.3 257.3L401.4 257.2L401.5 257.8L401.6 257.3L401.7 257.5L401.9 257.7L402 257.5L402.1 257.2L402.2 258.4L402.3 257.4L402.4 257.4L402.6 257.2L402.7 257.5L402.8 257.2L402.9 258.2L403 257.9L403.1 257.5L403.2 256.9L403.4 257.7L403.5 257.2L403.6 257.7L403.7 256.9L403.8 257.4L403.9 257.4L404.1 258.1L404.2 256.8L404.3 257.1L404.4 257.6L404.5 258.3L404.6 257L404.8 257.1L404.9 258L405 257.6L405.1 257.5L405.2 257.5L405.3 257L405.5 256.9L405.6 258.1L405.7 256.7L405.8 257.3L405.9 257.7L406 258L406.2 257.2L406.3 257.8L406.4 257.7L406.5 257.5L406.6 257.5L406.7 257.1L406.9 257.2L407 257.7L407.1 258.4L407.2 257.9L407.3 257.9L407.4 257.2L407.6 257.3L407.7 257.3L407.8 256.6L407.9 257L408 258.2L408.1 256.9L408.3 258L408.4 257.2L408.5 257.1L408.6 257.8L408.7 257.1L408.8 257.4L408.9 257.5L409.1 257.1L409.2 257.4L409.3 257.1L409.4 257.1L409.5 257.5L409.6 257.4L409.8 258.3L409.9 256.8L410 257.8L410.1 257.7L410.2 258L410.3 257.5L410.5 257.5L410.6 257.3L410.7 258L410.8 258L410.9 257.2L411 257.6L411.2 257.4L411.3 258L411.4 256.7L411.5 257.6L411.6 257.8L411.7 257.3L411.9 257.3L412 256.9L412.1 257.4L412.2 257.5L412.3 257.7L412.4 257L412.6 257.5L412.7 256.8L412.8 257.6L412.9 258.2L413 256.8L413.1 257.6L413.3 257.2L413.4 256.7L413.5 257.9L413.6 257.8L413.7 257.5L413.8 257.7L414 257.2L414.1 258.1L414.2 257.9L414.3 257.6L414.4 257.5L414.5 257.4L414.7 257.2L414.8 257.6L414.9 257.4L415 257L415.1 256.8L415.2 257L415.3 256.8L415.5 257.5L415.6 258L415.7 257.8L415.8 258.1L415.9 257.3L416 257.8L416.2 257.6L416.3 257.9L416.4 256.9L416.5 258.2L416.6 257.5L416.7 257.4L416.9 257.8L417 258L417.1 257.6L417.2 258L417.3 257.8L417.4 256.5L417.6 256.9L417.7 256.9L417.8 257.5L417.9 257.7L418 257.7L418.1 258L418.3 257.2L418.4 257.6L418.5 257.3L418.6 257.9L418.7 257.1L418.8 257.1L419 257.1L419.1 257.8L419.2 257.8L419.3 257.1L419.4 257.6L419.5 257.3L419.7 257.4L419.8 256.8L419.9 257.2L420 257.9L420.1 257L420.2 257.5L420.4 258.3L420.5 257.1L420.6 257.6L420.7 257.8L420.8 257.5L420.9 257.7L421 257L421.2 257.3L421.3 256.6L421.4 257.1L421.5 257.8L421.6 257.8L421.7 257.5L421.9 256.9L422 257.9L422.1 257.4L422.2 257L422.3 258.3L422.4 257.3L422.6 257L422.7 258L422.8 257.5L422.9 257L423 257.4L423.1 257.6L423.3 257.9L423.4 257.4L423.5 257.2L423.6 257.6L423.7 258.1L423.8 257.9L424 257.1L424.1 256.7L424.2 256.7L424.3 257.9L424.4 257.6L424.5 256.9L424.7 256.7L424.8 257.6L424.9 257L425 257.2L425.1 257.4L425.2 257.7L425.4 257.9L425.5 257.6L425.6 258L425.7 257.6L425.8 257.3L425.9 256.6L426.1 257.9L426.2 257.8L426.3 257.5L426.4 257.7L426.5 257.1L426.6 257.5L426.7 258.1L426.9 257.4L427 257L427.1 258L427.2 257.5L427.3 257.1L427.4 257.9L427.6 258.1L427.7 257.5L427.8 257.8L427.9 257.7L428 257.1L428.1 258L428.3 257.3L428.4 258.1L428.5 257.6L428.6 257.3L428.7 257.1L428.8 257.4L429 257L429.1 257.7L429.2 258L429.3 258.1L429.4 257.6L429.5 257.7L429.7 257L429.8 257.2L429.9 258.1L430 257L430.1 257.7L430.2 257.1L430.4 257.5L430.5 257.2L430.6 256.6L430.7 257.7L430.8 257.1L430.9 257.5L431.1 256.8L431.2 257.7L431.3 257.8L431.4 257.5L431.5 258.2L431.6 257.5L431.8 257.1L431.9 257.2L432 257L432.1 257.4L432.2 257.8L432.3 257.5L432.4 256.9L432.6 257L432.7 257.8L432.8 256.8L432.9 258.1L433 257.2L433.1 257.3L433.3 257L433.4 257.4L433.5 257.9L433.6 257L433.7 257.6L433.8 257.3L434 258L434.1 257.2L434.2 257.4L434.3 256.7L434.4 257.6L434.5 257.5L434.7 257.9L434.8 257.4L434.9 256.6L435 257.6L435.1 257.5L435.2 257.7L435.4 257.7L435.5 258.2L435.6 258.1L435.7 258.3L435.8 256.9L435.9 258L436.1 257.8L436.2 257.9L436.3 258.1L436.4 257.9L436.5 257L436.6 258L436.8 257.6L436.9 257.5L437 257.9L437.1 257.2L437.2 257.9L437.3 257.8L437.5 257.7L437.6 257.6L437.7 256.9L437.8 257.3L437.9 257.5L438 257.6L438.1 257.6L438.3 257.8L438.4 257.7L438.5 199.4L438.6 141.2L438.7 81.2L438.8 79L439 81.6L439.1 79.2L439.2 82.1L439.3 80.6L439.4 81.5L439.5 78.1L439.7 76.9L439.8 77.8L439.9 73.4L440 80.1L440.1 78.8L440.2 75.1L440.4 80.3L440.5 79.6L440.6 78.6L440.7 77.1L440.8 82.9L440.9 71.9L441.1 74.2L441.2 78.8L441.3 74.9L441.4 75.8L441.5 79.6L441.6 80L441.8 75.9L441.9 75L442 79.2L442.1 73.6L442.2 78.1L442.3 75.9L442.5 73.5L442.6 78.5L442.7 71.9L442.8 79.5L442.9 74L443 77.3L443.2 72.4L443.3 78.4L443.4 77.7L443.5 78.5L443.6 72.1L443.7 72.7L443.9 71.5L444 77.6L444.1 74.2L444.2 72.3L444.3 69L444.4 75.1L444.5 79.7L444.7 71.5L444.8 79.2L444.9 69.9L445 71.1L445.1 71.5L445.2 70.7L445.4 73.9L445.5 78L445.6 77L445.7 70.6L445.8 69.4L445.9 71.6L446.1 75.1L446.2 72.6L446.3 69.6L446.4 74.9L446.5 67.7L446.6 75L446.8 72.8L446.9 72.1L447 64.5L447.1 69.6L447.2 69.3L447.3 73.5L447.5 71.9L447.6 68L447.7 74.7L447.8 74.9L447.9 63.8L448 70.8L448.2 67.3L448.3 74.7L448.4 77.7L448.5 75.2L448.6 72.3L448.7 69.8L448.9 72.2L449 71.4L449.1 74.1L449.2 67.2L449.3 67.3L449.4 72.7L449.6 67.9L449.7 68.1L449.8 67.1L449.9 66.3L450 72.3L450.1 68.5L450.2 71L450.4 70.1L450.5 75.5L450.6 66.2L450.7 70.4L450.8 68.1L450.9 72.8L451.1 75.3L451.2 70.5L451.3 75L451.4 74L451.5 72.5L451.6 73.5L451.8 63.5L451.9 66.2L452 70L452.1 67.8L452.2 68.2L452.3 66.7L452.5 76.3L452.6 75.1L452.7 72.2L452.8 72.5L452.9 64.5L453 71.7L453.2 67.8L453.3 64.8L453.4 73.9L453.5 63.9L453.6 68.8L453.7 63.4L453.9 63.8L454 67.8L454.1 67.6L454.2 61.1L454.3 72.1L454.4 65.2L454.6 71.3L454.7 69L454.8 62.8L454.9 73.5L455 64.9L455.1 73L455.3 71.7L455.4 69.3L455.5 71.1L455.6 63.1L455.7 70.7L455.8 69.4L455.9 71.6L456.1 63.3L456.2 70.5L456.3 63.3L456.4 69.9L456.5 72.6L456.6 66.9L456.8 63.6L456.9 72.3L457 68L457.1 70.6L457.2 63.7L457.3 61L457.5 64.5L457.6 67.1L457.7 71.3L457.8 67.5L457.9 66.6L458 65.9L458.2 63.8L458.3 68.5L458.4 70.9L458.5 63.3L458.6 68.2L458.7 67.3L458.9 66.3L459 70.6L459.1 66L459.2 65.2L459.3 64.3L459.4 65.5L459.6 70.9L459.7 73.1L459.8 67.3L459.9 69L460 63L460.1 68.2L460.3 69.9L460.4 70.3L460.5 68.1L460.6 66.3L460.7 65.8L460.8 70.3L461 69.7L461.1 70.8L461.2 65.8L461.3 71.9L461.4 68.5L461.5 60L461.6 63.2L461.8 60.4L461.9 62.6L462 70.7L462.1 67.1L462.2 67.6L462.3 69.1L462.5 68.6L462.6 63.7L462.7 68.8L462.8 67L462.9 65.2L463 68.1L463.2 61.3L463.3 67.1L463.4 63.2L463.5 63.5L463.6 64.4L463.7 67.7L463.9 66.2L464 64L464.1 69.1L464.2 64.5L464.3 68.9L464.4 65.1L464.6 71.6L464.7 62.5L464.8 61.6L464.9 68.7L465 64.3L465.1 69.7L465.3 68.9L465.4 59.9L465.5 63.5L465.6 67.8L465.7 62.4L465.8 61.4L466 60.1L466.1 66.4L466.2 68.8L466.3 63.4L466.4 63.9L466.5 67.5L466.7 69L466.8 68.6L466.9 68.7L467 68.2L467.1 63.3L467.2 61.4L467.3 68.5L467.5 62L467.6 68.1L467.7 66.2L467.8 67.8L467.9 69L468 71.1L468.2 63.2L468.3 60.8L468.4 58.9L468.5 68.7L468.6 62.2L468.7 61.1L468.9 67.3L469 66.1L469.1 65.9L469.2 67.8L469.3 68.4L469.4 66.7L469.6 63.1L469.7 66.5L469.8 65L469.9 70.2L470 65.3L470.1 61.5L470.3 66L470.4 69.6L470.5 64.6L470.6 65L470.7 67L470.8 71.2L471 61.8L471.1 67.6L471.2 65.7L471.3 62.3L471.4 64.2L471.5 59.9L471.7 65.2L471.8 66.5L471.9 60.7L472 62.9L472.1 67.3L472.2 69.4L472.4 66L472.5 59.2L472.6 66.6L472.7 62.7L472.8 64L472.9 65.5L473 61.4L473.2 65.2L473.3 62.3L473.4 60.3L473.5 59.5L473.6 66.8L473.7 64.6L473.9 59.4L474 63.9L474.1 65.7L474.2 67.1L474.3 62.9L474.4 67.2L474.6 65.6L474.7 66.9L474.8 68.4L474.9 62.1L475 70.6L475.1 64L475.3 66.1L475.4 71L475.5 69.3L475.6 65.7L475.7 62.3L475.8 64.1L476 66L476.1 63.7L476.2 65.6L476.3 62.2L476.4 60.9L476.5 66.4L476.7 62.6L476.8 68.6L476.9 60.3L477 69.5L477.1 64.2L477.2 64.6L477.4 59.6L477.5 62.3L477.6 67.3L477.7 61.8L477.8 58.6L477.9 68.5L478.1 65.3L478.2 66.3L478.3 60.9L478.4 66.5L478.5 62.9L478.6 69.3L478.8 64.8L478.9 68.8L479 65.4L479.1 65.1L479.2 63.8L479.3 68.6L479.4 62.7L479.6 65.4L479.7 68.6L479.8 66.8L479.9 66.5L480 65.4L480.1 68.2L480.3 58.1L480.4 66.6L480.5 66.5L480.6 61.8L480.7 63.8L480.8 63.7L481 60.8L481.1 59.4L481.2 61.2L481.3 62.1L481.4 67.7L481.5 67.4L481.7 61.4L481.8 66.7L481.9 67.6L482 58.3L482.1 61.3L482.2 61.7L482.4 62.8L482.5 60.8L482.6 72.5L482.7 61.7L482.8 66L482.9 58.7L483.1 67.2L483.2 67.1L483.3 60.1L483.4 66.8L483.5 67.8L483.6 60.8L483.8 65.8L483.9 61.7L484 62.1L484.1 62.6L484.2 67.8L484.3 66.4L484.5 64.6L484.6 66.4L484.7 58.6L484.8 66.9L484.9 62.9L485 67.3L485.1 60.1L485.3 69.3L485.4 66.9L485.5 68.5L485.6 69.4L485.7 70.5L485.8 65.2L486 64.8L486.1 66.4L486.2 61.6L486.3 65.2L486.4 30.2L486.5 29.7L486.7 30.1L486.8 30.1L486.9 64.8L487 62.8L487.1 63.1L487.2 48.3L487.4 48.7L487.5 49.7L487.6 47.7L487.7 48.8L487.8 47.2L487.9 64.9L488.1 68.4L488.2 68.7L488.3 66.1L488.4 75.9L488.5 76.4L488.6 77.2L488.8 75.3L488.9 64.4L489 67.4L489.1 67.8L489.2 66.3L489.3 63.9L489.5 62.2L489.6 61.2L489.7 60.5L489.8 61.7L489.9 60.6L490 66.7L490.2 69.6L490.3 58.9L490.4 67L490.5 59.6L490.6 62.5L490.7 59.7L490.8 68.3L491 63.6L491.1 67.3L491.2 69.5L491.3 66.1L491.4 64.4L491.5 63.2L491.7 68L491.8 62.7L491.9 67.3L492 60.7L492.1 67.4L492.2 60L492.4 67L492.5 66.2L492.6 62.3L492.7 64L492.8 65.3L492.9 62.7L493.1 62.3L493.2 67.1L493.3 60.8L493.4 64.7L493.5 65.6L493.6 61.3L493.8 61.6L493.9 63.1L494 65.3L494.1 63.4L494.2 62.2L494.3 62.1L494.5 65.9L494.6 60.1L494.7 64L494.8 59.8L494.9 64.6L495 67L495.2 65.3L495.3 65.2L495.4 66.9L495.5 59.8L495.6 62.5L495.7 64.8L495.9 64.4L496 64.6L496.1 61.2L496.2 60.9L496.3 60.9L496.4 61.4L496.5 64L496.7 65L496.8 59.8L496.9 66.8L497 64.1L497.1 60.8L497.2 61.9L497.4 62.5L497.5 61.6L497.6 61.4L497.7 64.5L497.8 66.2L497.9 62.1L498.1 68.9L498.2 62.1L498.3 66.9L498.4 64.5L498.5 67.6L498.6 67.6L498.8 64L498.9 63.9L499 63.5L499.1 63.7L499.2 65.2L499.3 66.6L499.5 58.5L499.6 60.7L499.7 66.2L499.8 60.8L499.9 63.6L500 60.5L500.2 61.5L500.3 63.9L500.4 67.1L500.5 58.5L500.6 61.9L500.7 64.5L500.9 67.4L501 59L501.1 66.8L501.2 59.7L501.3 60.6L501.4 60.3L501.6 65L501.7 63.8L501.8 65.9L501.9 64.1L502 64.4L502.1 60.2L502.2 68.9L502.4 64.6L502.5 65L502.6 64.4L502.7 63.3L502.8 61.5L502.9 70.5L503.1 66.2L503.2 61.4L503.3 62.7L503.4 65.1L503.5 61L503.6 66.5L503.8 61L503.9 66.7L504 64.9L504.1 62.7L504.2 63.1L504.3 65.5L504.5 59.3L504.6 60.7L504.7 59.4L504.8 60.9L504.9 61.2L505 68.5L505.2 60.4L505.3 59.2L505.4 60.5L505.5 60.6L505.6 63.9L505.7 58.9L505.9 67.4L506 62.5L506.1 63.6L506.2 64.3L506.3 64.7L506.4 60.5L506.6 59.9L506.7 62.2L506.8 66.9L506.9 63.5L507 59.7L507.1 67.1L507.3 59.3L507.4 65.7L507.5 68.5L507.6 65.1L507.7 58L507.8 63.7L507.9 61.7L508.1 66.8L508.2 63.1L508.3 66.3L508.4 63.9L508.5 63.5L508.6 62.6L508.8 61L508.9 62.1L509 59.5L509.1 63.9L509.2 65.5L509.3 66.9L509.5 66.6L509.6 62.1L509.7 64.8L509.8 59.7L509.9 60.6L510 65.2L510.2 59.9L510.3 59.2L510.4 67.9L510.5 64.1L510.6 62.9L510.7 58.2L510.9 58.5L511 64.4L511.1 67.4L511.2 66.9L511.3 62.8L511.4 60.4L511.6 63.2L511.7 58.8L511.8 63.7L511.9 66.7L512 63.9L512.1 65.1L512.3 64.9L512.4 62.5L512.5 65.3L512.6 62L512.7 58.3L512.8 57.7L513 63.8L513.1 63.2L513.2 59.7L513.3 66.2L513.4 66L513.5 60.7L513.6 66.5L513.8 60.5L513.9 60.4L514 64.4L514.1 64.9L514.2 59L514.3 59.2L514.5 65.5L514.6 59.7L514.7 62.2L514.8 57.8L514.9 66.2L515 70.3L515.2 62.7L515.3 59.3L515.4 68.2L515.5 62.1L515.6 62.9L515.7 62.3L515.9 61.9L516 61.8L516.1 61.7L516.2 59.1L516.3 65L516.4 65.2L516.6 61.2L516.7 56.6L516.8 59.9L516.9 68.9L517 61L517.1 63.9L517.3 68.5L517.4 62.4L517.5 66.5L517.6 59.2L517.7 67.2L517.8 60.3L518 63.4L518.1 60.4L518.2 66.9L518.3 57.9L518.4 64L518.5 64.5L518.7 60.1L518.8 66.3L518.9 65.1L519 62L519.1 59L519.2 65.3L519.4 62.2L519.5 60.6L519.6 60.6L519.7 65.9L519.8 59.4L519.9 65.6L520 63.3L520.2 61.7L520.3 64.3L520.4 66.6L520.5 66.3L520.6 62.4L520.7 64.2L520.9 57.8L521 66.2L521.1 59.9L521.2 61.1L521.3 64.2L521.4 59L521.6 62.9L521.7 62.9L521.8 61.4L521.9 65L522 63.3L522.1 60.9L522.3 63.6L522.4 61L522.5 58.4L522.6 60.5L522.7 59.6L522.8 66L523 63.2L523.1 58L523.2 66.2L523.3 65.9L523.4 64.2L523.5 61.9L523.7 64.2L523.8 63.3L523.9 57.8L524 66.2L524.1 64.3L524.2 65.4L524.4 66.6L524.5 63.2L524.6 58.7L524.7 62L524.8 60.2L524.9 58.4L525.1 56.3L525.2 63.3L525.3 66.4L525.4 59.9L525.5 64.5L525.6 59.8L525.7 63.4L525.9 66.7L526 67.3L526.1 64.5L526.2 62.5L526.3 60.5L526.4 65.9L526.6 60L526.7 64.7L526.8 64.5L526.9 58.5L527 56.6L527.1 58.4L527.3 57L527.4 63.7L527.5 63.4L527.6 60.3L527.7 62.2L527.8 66.8L528 63.1L528.1 61.4L528.2 64.4L528.3 68.2L528.4 61.9L528.5 61.9L528.7 62.5L528.8 64.8L528.9 67.1L529 61.3L529.1 64L529.2 59.3L529.4 59.8L529.5 64L529.6 57.8L529.7 63.7L529.8 59.4L529.9 63L530.1 64.6L530.2 58.4L530.3 62.8L530.4 61.8L530.5 62.6L530.6 60.8L530.8 63.2L530.9 64.7L531 63.3L531.1 64L531.2 67.3L531.3 66.8L531.4 67.7L531.6 68.7L531.7 69L531.8 65.7L531.9 61.6L532 61.6L532.1 65.1L532.3 60.9L532.4 62.4L532.5 61.8L532.6 63.8L532.7 64.1L532.8 65.3L533 59.6L533.1 58.3L533.2 61.8L533.3 64.8L533.4 66.6L533.5 60L533.7 61.8L533.8 65.7L533.9 60.7L534 62.2L534.1 64.4L534.2 61.3L534.4 65.9L534.5 64L534.6 60.3L534.7 61.1L534.8 65.2L534.9 66.3L535.1 66.8L535.2 61.8L535.3 64.1L535.4 62.4L535.5 57.4L535.6 60L535.8 61.8L535.9 59.1L536 58.9L536.1 56.5L536.2 61.6L536.3 64.8L536.5 66.7L536.6 60.9L536.7 61.4L536.8 59.4L536.9 61.9L537 65.9L537.1 60.4L537.3 67.4L537.4 66.8L537.5 61.4L537.6 67.4L537.7 59.7L537.8 64.6L538 63L538.1 67L538.2 67.3L538.3 62.4L538.4 63.6L538.5 60.6L538.7 57.5L538.8 63.6L538.9 58.7L539 66.4L539.1 58.4L539.2 63.6L539.4 58.4L539.5 64.4L539.6 64.9L539.7 65.1L539.8 63.8L539.9 62.3L540.1 59.6L540.2 65.5L540.3 62.6L540.4 61.2L540.5 62L540.6 64.5L540.8 66.2L540.9 58.9L541 61.6L541.1 63.7L541.2 60.8L541.3 61.2L541.5 60.8L541.6 68.9L541.7 63.8L541.8 61.4L541.9 56.9L542 65.1L542.2 62.1L542.3 59.1L542.4 62.8L542.5 60.5L542.6 63.9L542.7 65.4L542.8 63.7L543 56.8L543.1 62.7L543.2 59.7L543.3 62.3L543.4 63.1L543.5 61.5L543.7 59.5L543.8 60.7L543.9 62.4L544 61.8L544.1 60.9L544.2 58.6L544.4 64L544.5 65L544.6 61.7L544.7 65.9L544.8 65.7L544.9 65.9L545.1 64.2L545.2 65L545.3 58.4L545.4 66L545.5 64.4L545.6 59.4L545.8 66.7L545.9 66.9L546 59.2L546.1 61.5L546.2 62.2L546.3 63.2L546.5 63.5L546.6 58.6L546.7 64.8L546.8 67.5L546.9 65.8L547 58.9L547.2 65.4L547.3 59.2L547.4 59.2L547.5 64.7L547.6 60.3L547.7 56.9L547.9 65.8L548 60.1L548.1 67.1L548.2 60L548.3 62.8L548.4 67.2L548.5 62.5L548.7 59.6L548.8 66.6L548.9 60.8L549 66L549.1 59.2L549.2 65.4L549.4 62L549.5 64.7L549.6 64L549.7 64L549.8 61.8L549.9 63.2L550.1 61.6L550.2 63.6L550.3 58.1L550.4 62.7L550.5 64.4L550.6 64.7L550.8 62.2L550.9 64.6L551 59.6L551.1 64.4L551.2 67L551.3 60.8L551.5 66.4L551.6 58.5L551.7 62.6L551.8 61.7L551.9 62L552 56.7L552.2 59.9L552.3 66.7L552.4 59.3L552.5 63.6L552.6 60.5L552.7 55L552.9 65.6L553 67.4L553.1 65.4L553.2 61.1L553.3 60.9L553.4 62.7L553.6 63.6L553.7 59.6L553.8 64.1L553.9 63.3L554 60.3L554.1 67L554.3 63.8L554.4 66.8L554.5 59.8L554.6 61L554.7 64.1L554.8 60.4L554.9 69L555.1 67.1L555.2 66.3L555.3 66.6L555.4 57.6L555.5 64.7L555.6 63.6L555.8 63.8L555.9 69L556 64L556.1 63.8L556.2 60.4L556.3 57.4L556.5 65.9L556.6 58.7L556.7 66.7L556.8 64.1L556.9 60.8L557 64.6L557.2 63.2L557.3 61.8L557.4 68.3L557.5 62.7L557.6 63.8L557.7 63.6L557.9 63.6L558 57.9L558.1 67.4L558.2 60.6L558.3 62.4L558.4 60.2L558.6 66.8L558.7 66.2L558.8 62.4L558.9 62.2L559 60.7L559.1 60.5L559.3 66.2L559.4 67.2L559.5 60L559.6 66.9L559.7 62L559.8 69L560 66.9L560.1 65.9L560.2 66.3L560.3 66.7L560.4 63.3L560.5 62L560.6 64.1L560.8 66.5L560.9 61.7L561 66.7L561.1 60.6L561.2 63.4L561.3 58.3L561.5 60.4L561.6 65.1L561.7 69.9L561.8 65.7L561.9 58.6L562 60.7L562.2 64.5L562.3 59.9L562.4 59.3L562.5 60.2L562.6 63.1L562.7 57.7L562.9 60.6L563 57.7L563.1 60.5L563.2 67.8L563.3 65.8L563.4 59.1L563.6 64.6L563.7 65.5L563.8 64.2L563.9 59L564 64.6L564.1 60.6L564.3 63.9L564.4 62.8L564.5 67.9L564.6 68.3L564.7 57.9L564.8 60.3L565 65L565.1 63.9L565.2 61.6L565.3 64.5L565.4 64L565.5 62.9L565.7 66.1L565.8 59.9L565.9 62.4L566 65.3L566.1 66L566.2 62.8L566.3 59.8L566.5 67.2L566.6 63.6L566.7 61L566.8 61.5L566.9 63.3L567 66.7L567.2 65.2L567.3 67.3L567.4 62L567.5 59.2L567.6 63.6L567.7 60.1L567.9 61.4L568 60.6L568.1 60.8L568.2 61.1L568.3 62.4L568.4 63.6L568.6 66.8L568.7 64.2L568.8 66.4L568.9 60.6L569 58.7L569.1 64.9L569.3 63L569.4 60.7L569.5 64.7L569.6 64L569.7 57.7L569.8 67.1L570 61.5L570.1 63.7L570.2 62.5L570.3 66.7L570.4 64.1L570.5 68.6L570.7 60.6L570.8 66.9L570.9 60L571 62.4L571.1 67.8L571.2 67.2L571.4 59.9L571.5 60.4L571.6 65.5L571.7 63.5L571.8 59.7L571.9 68.6L572 63.7L572.2 59.6L572.3 66.6L572.4 60.1L572.5 60.3L572.6 62.3L572.7 59.8L572.9 64L573 69.8L573.1 61.1L573.2 67L573.3 67.1L573.4 61.4L573.6 65.5L573.7 62.1L573.8 68.6L573.9 66.4L574 61.8L574.1 63.1L574.3 65.9L574.4 59.8L574.5 62.2L574.6 64.4L574.7 64.1L574.8 59.1L575 62.6L575.1 65.9L575.2 61.8L575.3 66.5L575.4 59.2L575.5 61.5L575.7 63.5L575.8 66.3L575.9 60.5L576 60.3L576.1 66.3L576.2 68.8L576.4 69.6L576.5 66.1L576.6 61.2L576.7 66L576.8 65.6L576.9 64.9L577.1 66.3L577.2 62.2L577.3 67.7L577.4 65.5L577.5 61.9L577.6 69.9L577.7 65.1L577.9 69.2L578 59L578.1 63.1L578.2 64.4L578.3 67.2L578.4 63.9L578.6 66.6L578.7 66.4L578.8 61.6L578.9 60.9L579 62.4L579.1 62.5L579.3 61.6L579.4 63.5L579.5 64.3L579.6 65.1L579.7 61.1L579.8 44.3L580 44.2L580.1 43.8L580.2 87.3L580.3 86.1L580.4 84.3L580.5 82.5L580.7 85.3L580.8 76.8L580.9 83.6L581 76.5L581.1 78.6L581.2 80.4L581.4 78.6L581.5 79.6L581.6 80.2L581.7 75.2L581.8 79.1L581.9 77.8L582.1 77.9L582.2 81.7L582.3 72.5L582.4 80.5L582.5 78.2L582.6 70.9L582.8 71.9L582.9 75.8L583 77.8L583.1 73.3L583.2 75.8L583.3 74.7L583.5 74.8L583.6 76.7L583.7 72.5L583.8 73.9L583.9 73.8L584 73.4L584.1 68.7L584.3 74.4L584.4 73.8L584.5 70.9L584.6 69.7L584.7 75L584.8 76L585 70.6L585.1 68.4L585.2 72.7L585.3 69.1L585.4 72.6L585.5 74.4L585.7 72.8L585.8 66.8L585.9 67.5L586 65.2L586.1 70.1L586.2 67.1L586.4 70.2L586.5 67.7L586.6 67.4L586.7 67.3L586.8 71.9L586.9 74.1L587.1 67.7L587.2 66.2L587.3 67.3L587.4 70.9L587.5 73.1L587.6 71.3L587.8 69.1L587.9 69.4L588 70.5L588.1 69.9L588.2 72.4L588.3 70.9L588.5 72.5L588.6 66.7L588.7 69.7L588.8 69.5L588.9 72.2L589 67.3L589.2 70.3L589.3 68.3L589.4 65.5L589.5 65.1L589.6 70.3L589.7 69.1L589.8 66L590 63.1L590.1 66.4L590.2 66.8L590.3 68.3L590.4 68.3L590.5 67.5L590.7 70.8L590.8 66.9L590.9 69.2L591 70.1L591.1 64.1L591.2 70.8L591.4 71.6L591.5 73L591.6 63.8L591.7 67.5L591.8 66.8L591.9 61.9L592.1 71.3L592.2 65.3L592.3 71L592.4 66.2L592.5 69.7L592.6 64.6L592.8 62.9L592.9 69.8L593 68.1L593.1 69.3L593.2 62.4L593.3 70L593.5 69.4L593.6 72.7L593.7 68.7L593.8 61L593.9 66.1L594 60.5L594.2 66.3L594.3 63.6L594.4 66.4L594.5 63.4L594.6 68.1L594.7 62.5L594.9 68.2L595 59.3L595.1 61.1L595.2 65L595.3 63.7L595.4 62.2L595.5 62.6L595.7 63.7L595.8 63.2L595.9 68.4L596 65.1L596.1 68.4L596.2 62.3L596.4 62.7L596.5 63.7L596.6 65.9L596.7 64.5L596.8 70.1L596.9 66.4L597.1 67.1L597.2 67L597.3 66.2L597.4 68.5L597.5 64.5L597.6 65L597.8 68.2L597.9 62.2L598 61.1L598.1 65.4L598.2 62.4L598.3 61.2L598.5 69.5L598.6 65.6L598.7 65.8L598.8 64.1L598.9 63.9L599 62.6L599.2 63.8L599.3 63L599.4 65.3L599.5 69.7L599.6 59.6L599.7 66.1L599.9 66.7L600 67L600.1 63.6L600.2 65.1L600.3 61.5L600.4 68.2L600.6 69.1L600.7 65.7L600.8 65.3L600.9 64.6L601 67L601.1 66.4L601.2 60.2L601.4 64.7L601.5 63.7L601.6 67.1L601.7 60.1L601.8 60.1L601.9 64.5L602.1 63.8L602.2 60.7L602.3 64.7L602.4 62.2L602.5 68.5L602.6 67.6L602.8 66.8L602.9 63.5L603 58.3L603.1 60.7L603.2 66.2L603.3 63.9L603.5 65.7L603.6 65.8L603.7 62.3L603.8 61.6L603.9 66.4L604 65.5L604.2 62.8L604.3 67.8L604.4 62.3L604.5 68.2L604.6 62.4L604.7 62.6L604.9 64.5L605 65.2L605.1 65L605.2 62.3L605.3 65.1L605.4 59.8L605.6 60.2L605.7 67.9L605.8 65.4L605.9 62.3L606 60.1L606.1 65.5L606.3 65.6L606.4 64.3L606.5 64L606.6 61.2L606.7 63.3L606.8 62.6L606.9 58.8L607.1 65.5L607.2 61.2L607.3 67.5L607.4 64.2L607.5 60.5L607.6 62.3L607.8 59.7L607.9 67.5L608 60L608.1 64L608.2 65.7L608.3 65.4L608.5 68.2L608.6 62.1L608.7 60.5L608.8 65.3L608.9 65.3L609 59.5L609.2 63.2L609.3 60L609.4 66.5L609.5 67.1L609.6 62.9L609.7 67.5L609.9 68.5L610 64.8L610.1 61L610.2 63.7L610.3 61.5L610.4 59.5L610.6 66.6L610.7 66.5L610.8 65.1L610.9 67.1L611 67.1L611.1 63.8L611.3 62.1L611.4 66.7L611.5 62.8L611.6 66.3L611.7 61.9L611.8 61.6L612 61.5L612.1 60.4L612.2 66.2L612.3 64.2L612.4 64.6L612.5 61.9L612.6 63.2L612.8 59.1L612.9 62.6L613 68.3L613.1 65.7L613.2 66.7L613.3 63.7L613.5 68.7L613.6 60.1L613.7 61.3L613.8 66.8L613.9 61.7L614 66.8L614.2 63L614.3 66.6L614.4 62.4L614.5 60.6L614.6 60.5L614.7 65.3L614.9 61.5L615 62.8L615.1 66.7L615.2 58.9L615.3 59.9L615.4 67.5L615.6 64.8L615.7 64.2L615.8 65.4L615.9 60.3L616 59.7L616.1 62.2L616.3 67.1L616.4 62.5L616.5 65.7L616.6 61.3L616.7 64L616.8 60.8L617 62.9L617.1 65.6L617.2 61.9L617.3 66.5L617.4 62L617.5 60L617.7 66.1L617.8 65.1L617.9 58.2L618 60.6L618.1 60.6L618.2 62.9L618.4 65.6L618.5 64.1L618.6 60.5L618.7 66.7L618.8 67.9L618.9 59L619 64L619.2 62.6L619.3 62.7L619.4 65.7L619.5 68.4L619.6 58.1L619.7 65.9L619.9 63.9L620 65.6L620.1 65.7L620.2 64.6L620.3 65.8L620.4 61.9L620.6 60.5L620.7 63.3L620.8 64.5L620.9 63.5L621 61.5L621.1 60.5L621.3 62.7L621.4 60.7L621.5 62.4L621.6 60.9L621.7 59.6L621.8 62.3L622 61.6L622.1 63.6L622.2 61.9L622.3 62.4L622.4 64.7L622.5 62L622.7 63.4L622.8 61.8L622.9 61.4L623 63.7L623.1 61.6L623.2 66.8L623.4 65.8L623.5 58.6L623.6 64.1L623.7 62.1L623.8 59.6L623.9 64.6L624.1 63.6L624.2 62.2L624.3 63.9L624.4 62.9L624.5 62.8L624.6 64.9L624.7 62.5L624.9 62.8L625 65.2L625.1 17.5L625.2 17.5L625.3 17.6L625.4 99.1L625.6 99.2L625.7 99.1L625.8 86.9L625.9 84.2L626 87.6L626.1 88.6L626.3 89.5L626.4 87.6L626.5 89.4L626.6 86.5L626.7 90.1L626.8 88.2L627 90.9L627.1 88.6L627.2 92.3L627.3 93L627.4 87.9L627.5 92.3L627.7 90.3L627.8 93L627.9 93.3L628 90.7L628.1 88.8L628.2 91.9L628.4 88.7L628.5 92.8L628.6 90L628.7 90.4L628.8 95.3L628.9 93.2L629.1 90.6L629.2 93.7L629.3 92.1L629.4 91.3L629.5 91.5L629.6 96.2L629.8 89.8L629.9 94.2L630 95.4L630.1 95.9L630.2 95.8L630.3 94.2L630.4 91.1L630.6 91.1L630.7 89.8L630.8 93L630.9 90.4L631 95.7L631.1 90.4L631.3 92.3L631.4 95.5L631.5 89.9L631.6 92.3L631.7 95L631.8 91.8L632 95.3L632.1 90.5L632.2 94.7L632.3 93.2L632.4 90.3L632.5 97.3L632.7 95.2L632.8 91.3L632.9 93.7L633 93.4L633.1 92.8L633.2 91.3L633.4 93.1L633.5 95.3L633.6 91L633.7 90.6L633.8 94.5L633.9 94.7L634.1 90L634.2 89.8L634.3 91.2L634.4 90.4L634.5 95.5L634.6 94.5L634.8 96.3L634.9 92.5L635 93.9L635.1 94.6L635.2 92.6L635.3 93.5L635.5 92.2L635.6 93.4L635.7 91.8L635.8 88.7L635.9 91.2L636 92.3L636.1 95.9L636.3 91.8L636.4 91.4L636.5 92.8L636.6 94L636.7 91L636.8 94.8L637 94.5L637.1 90.7L637.2 90.6L637.3 91.1L637.4 94.5L637.5 93.8L637.7 91.7L637.8 92.3L637.9 93.2L638 93.1L638.1 88.6L638.2 88.3L638.4 91L638.5 90.2L638.6 96.6L638.7 89.8L638.8 90.5L638.9 93.4L639.1 96.5L639.2 90.1L639.3 94.7L639.4 95.1L639.5 97.1L639.6 92.1L639.8 92.3L639.9 93.1L640 90.1L640.1 92L640.2 91.1L640.3 96.5L640.5 90.6L640.6 91.1L640.7 91.5L640.8 95.6L640.9 94.1L641 92.3L641.2 95.5L641.3 95.9L641.4 93L641.5 91.2L641.6 92.7L641.7 90.9L641.8 93.8L642 90.5L642.1 91.2L642.2 94.2L642.3 94.5L642.4 93.5L642.5 95.8L642.7 90.9L642.8 94.3L642.9 90.8L643 91L643.1 91.9L643.2 91.2L643.4 95.5L643.5 94.7L643.6 95.5L643.7 90.6L643.8 92.9L643.9 91.2L644.1 92.4L644.2 95.7L644.3 90.7L644.4 93.7L644.5 89.3L644.6 94.2L644.8 91L644.9 89.5L645 91.3L645.1 93.8L645.2 97.3L645.3 96L645.5 94.8L645.6 94.6L645.7 93L645.8 91.3L645.9 91.4L646 95.6L646.2 93.9L646.3 92.5L646.4 94.3L646.5 96.2L646.6 91.9L646.7 97.1L646.9 95.3L647 94.4L647.1 90.8L647.2 93.2L647.3 94.8L647.4 96.3L647.5 93L647.7 96.7L647.8 91.2L647.9 94L648 91.8L648.1 95L648.2 96.5L648.4 94.9L648.5 93.6L648.6 91.8L648.7 96.6L648.8 94.7L648.9 93.1L649.1 95L649.2 94.1L649.3 94.4L649.4 95.4L649.5 91.6L649.6 89.3L649.8 93L649.9 91.9L650 95.6L650.1 96L650.2 94L650.3 90.9L650.5 92.6L650.6 96.6L650.7 91.5L650.8 94.3L650.9 94.1L651 95.5L651.2 92L651.3 93L651.4 91.8L651.5 91.1L651.6 97L651.7 96.1L651.9 95.2L652 96.5L652.1 93.2L652.2 91.3L652.3 96.3L652.4 92.3L652.6 94.1L652.7 96.6L652.8 97L652.9 94.7L653 96.6L653.1 92.4L653.2 93.3L653.4 95.1L653.5 92.1L653.6 94.4L653.7 92L653.8 97.3L653.9 90.9L654.1 97.2L654.2 91.7L654.3 95.2L654.4 90.4L654.5 92.3L654.6 92.3L654.8 91.3L654.9 89.8L655 97.5L655.1 93.4L655.2 93.6L655.3 93.1L655.5 94.6L655.6 92.9L655.7 92.2L655.8 94.2L655.9 96.3L656 98.4L656.2 91.7L656.3 94L656.4 97.9L656.5 93.6L656.6 95.5L656.7 95.2L656.9 96.5L657 96.9L657.1 93.3L657.2 91.6L657.3 94.2L657.4 95.3L657.6 98.1L657.7 94.4L657.8 93.4L657.9 93.9L658 93.9L658.1 94.3L658.3 96L658.4 95.2L658.5 92.2L658.6 96.4L658.7 93L658.8 97.5L659 93L659.1 91.9L659.2 93.7L659.3 95.4L659.4 95.6L659.5 95.5L659.6 94.4L659.8 91L659.9 96.5L660 95.2L660.1 91.6L660.2 93.2L660.3 95L660.5 94.7L660.6 96.6L660.7 94.7L660.8 91.6L660.9 95.6L661 97.6L661.2 96.7L661.3 93.6L661.4 92.9L661.5 93.5L661.6 93.2L661.7 97.5L661.9 96L662 95.4L662.1 89.8L662.2 96.5L662.3 96.6L662.4 94L662.6 94.5L662.7 96.4L662.8 93.9L662.9 91.3L663 98L663.1 91L663.3 93.2L663.4 96.8L663.5 93.9L663.6 94.1L663.7 93.9L663.8 94.5L664 91.4L664.1 94.2L664.2 97L664.3 96L664.4 91.4L664.5 96.4L664.7 94.1L664.8 96.7L664.9 94.4L665 96.7L665.1 93.7L665.2 92.8L665.3 91.2L665.5 98L665.6 96.7L665.7 94.2L665.8 93.9L665.9 96.6L666 97.7L666.2 92L666.3 89.8L666.4 91.7L666.5 98.4L666.6 95.1L666.7 97.3L666.9 94.5L667 94.2L667.1 89.7L667.2 94.1L667.3 93.4L667.4 93.3L667.6 94.2L667.7 96.9L667.8 92.6L667.9 97.6L668 93.6L668.1 91.7L668.3 94L668.4 91.9L668.5 93.7L668.6 96L668.7 96.1L668.8 97.2L669 92.8L669.1 92.7L669.2 93.4L669.3 95.4L669.4 97.8L669.5 92.5L669.7 93.5L669.8 94.2L669.9 94.8L670 90.2L670.1 92.7L670.2 92L670.4 100.1L670.5 96L670.6 89.6L670.7 97.9"/>
</g>
<g>
<path d="M187.7 109.9 V100.9" class="st"/><path d="M187.7 95.9 l-3.1 5.9 l3.1 -0.6 l3.1 0.6 z" class="hd"/>
<path d="M233.2 54.4 V67.6" class="st"/><path d="M233.2 72.6 l-3.1 -5.9 l3.1 0.6 l3.1 -0.6 z" class="hd"/>
<path d="M278.3 120.4 V110.2" class="st"/><path d="M278.3 105.2 l-3.1 5.9 l3.1 -0.6 l3.1 0.6 z" class="hd"/>
<path d="M160.7 212.4 H148.5" class="st"/><path d="M143.5 212.4 l5.9 -3.1 l-0.6 3.1 l0.6 3.1 z" class="hd"/>
<path d="M118 251.6 H105.6" class="st"/><path d="M100.6 251.6 l5.9 -3.1 l-0.6 3.1 l0.6 3.1 z" class="hd"/>
<path d="M532.9 42.3 V54.7" class="st"/><path d="M532.9 59.7 l-3.1 -5.9 l3.1 0.6 l3.1 -0.6 z" class="hd"/>
<path d="M627 44.6 V57" class="st"/><path d="M627 62 l-3.1 -5.9 l3.1 0.6 l3.1 -0.6 z" class="hd"/>
<path d="M486.9 94.8 V85.1" class="st"/><path d="M486.9 80.1 l-3.1 5.9 l3.1 -0.6 l3.1 0.6 z" class="hd"/>
<path d="M578.8 102.3 V91.7" class="st"/><path d="M578.8 86.7 l-3.1 5.9 l3.1 -0.6 l3.1 0.6 z" class="hd"/>
<path d="M456.3 251.5 H444.3" class="st"/><path d="M439.3 251.5 l5.9 -3.1 l-0.6 3.1 l0.6 3.1 z" class="hd"/>
</g>
</g>
</svg>
</body></html>
